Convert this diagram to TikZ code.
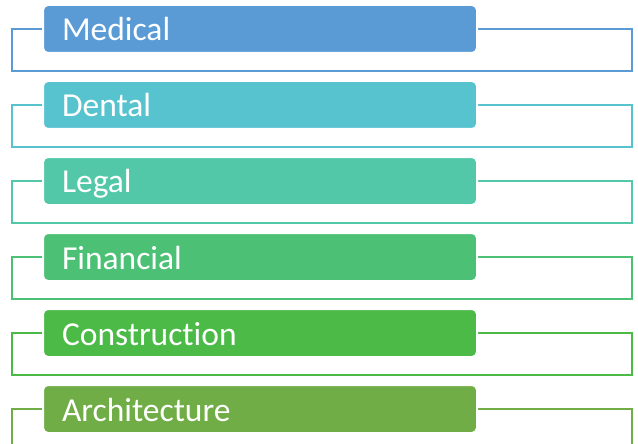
\documentclass[tikz,border=0pt]{standalone}
\usepackage{fontspec}
\setmainfont[Ligatures=NoCommon]{Carlito}
\definecolor{cMed}{HTML}{5B9BD5}
\definecolor{cDen}{HTML}{56C3CF}
\definecolor{cLeg}{HTML}{52C8A8}
\definecolor{cFin}{HTML}{4CC175}
\definecolor{cCon}{HTML}{4BBA47}
\definecolor{cArc}{HTML}{70AD47}
\tikzset{
  catbox/.style={draw=white, line width=2pt, rounded corners=5pt, minimum width=434pt, minimum height=48pt, inner xsep=19pt, inner ysep=0pt, text=white, font=\fontsize{33.5}{34}\selectfont, align=left, text width=396pt, text height=36pt, text depth=12pt},
  frame/.style={line width=2.4pt}
}
\begin{document}
\begin{tikzpicture}[x=1pt,y=-1pt]
\useasboundingbox (0,0) rectangle (638,444);
\clip (0,0) rectangle (638,444);
\foreach \i/\c/\t in {0/cMed/Medical,1/cDen/Dental,2/cLeg/Legal,3/cFin/Financial,4/cCon/Construction,5/cArc/Architecture}{
  \pgfmathsetmacro{\yy}{76*\i}
  \draw[frame, draw=\c] (12,29+\yy) rectangle (632,71+\yy);
  \node[catbox, fill=\c, anchor=north west] (box\i) at (42,4+\yy) {\t};
}
\end{tikzpicture}
\end{document}
